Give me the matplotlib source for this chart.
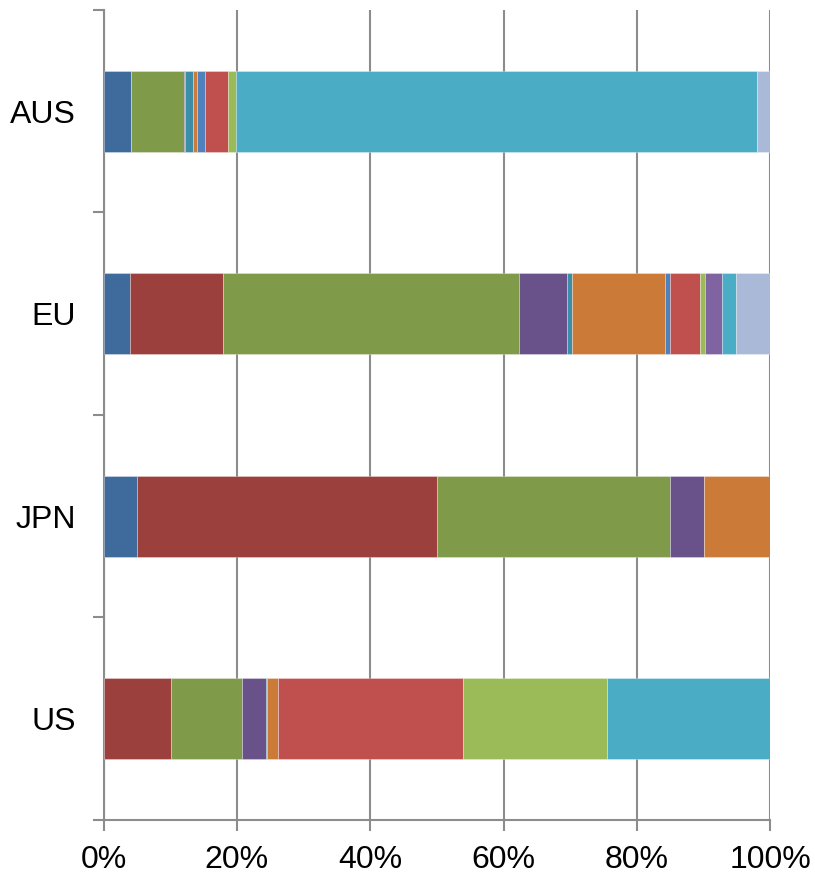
import matplotlib
matplotlib.use("Agg")
import matplotlib.pyplot as plt
import numpy as np

plt.rcParams['font.family'] = ['Liberation Sans', 'DejaVu Sans']

regions = ["US", "JPN", "EU", "AUS"]

# share (%) of each component per region, bottom-to-top order as in regions
dark_blue   = [0.0, 5.0, 4.0, 4.1]
dark_red    = [10.1, 45.0, 13.9, 0.0]
dark_green  = [10.6, 35.0, 44.4, 7.9]
dark_purple = [3.6, 5.0, 7.2, 0.2]
dark_aqua   = [0.2, 0.0, 0.8, 1.2]
dark_orange = [1.7, 10.0, 13.9, 0.6]
blue        = [0.0, 0.0, 0.7, 1.2]
red         = [27.7, 0.0, 4.6, 3.4]
green       = [21.6, 0.0, 0.7, 1.3]
purple      = [0.0, 0.0, 2.6, 0.0]
aqua        = [24.5, 0.0, 2.0, 78.1]
light_blue  = [0.0, 0.0, 5.2, 2.0]

series = [dark_blue, dark_red, dark_green, dark_purple, dark_aqua, dark_orange,
          blue, red, green, purple, aqua, light_blue]
colors = ["#3E6B9C", "#9C403E", "#7F9A48", "#69518A", "#3B8EA6", "#CC7A38",
          "#4F81BD", "#C0504D", "#9BBB59", "#8064A2", "#4BACC6", "#AAB9D8"]

fig = plt.figure(figsize=(8.15, 8.75), dpi=100)
ax = fig.add_axes([0.127, 0.0629, 0.818, 0.9257])

y = np.arange(len(regions))
left = np.zeros(len(regions))
for vals, c in zip(series, colors):
    vals = np.array(vals)
    ax.barh(y, vals, left=left, height=0.4, color=c,
            edgecolor=(1, 1, 1, 0.35), linewidth=0.6, zorder=3)
    left += vals

ax.set_xlim(0, 100)
ax.set_ylim(-0.5, len(regions) - 0.5)

ax.set_xticks(np.arange(0, 101, 20))
ax.set_xticklabels([f"{v}%" for v in range(0, 101, 20)])
ax.set_yticks(y)
ax.set_yticklabels(regions)
ax.set_yticks(np.arange(-0.5, len(regions), 1), minor=True)

ax.grid(axis='x', color='#8C8C8C', linewidth=1.5, zorder=1)
for s in ['top', 'right']:
    ax.spines[s].set_visible(False)
for s in ['left', 'bottom']:
    ax.spines[s].set_color('#8C8C8C')
    ax.spines[s].set_linewidth(1.5)

ax.tick_params(axis='y', which='major', length=0, pad=20, labelsize=23)
ax.tick_params(axis='y', which='minor', length=8, width=1.5, color='#8C8C8C')
ax.tick_params(axis='x', length=8, width=1.5, color='#8C8C8C', pad=10, labelsize=23)

fig.savefig("out.png", dpi=100, facecolor='white')
